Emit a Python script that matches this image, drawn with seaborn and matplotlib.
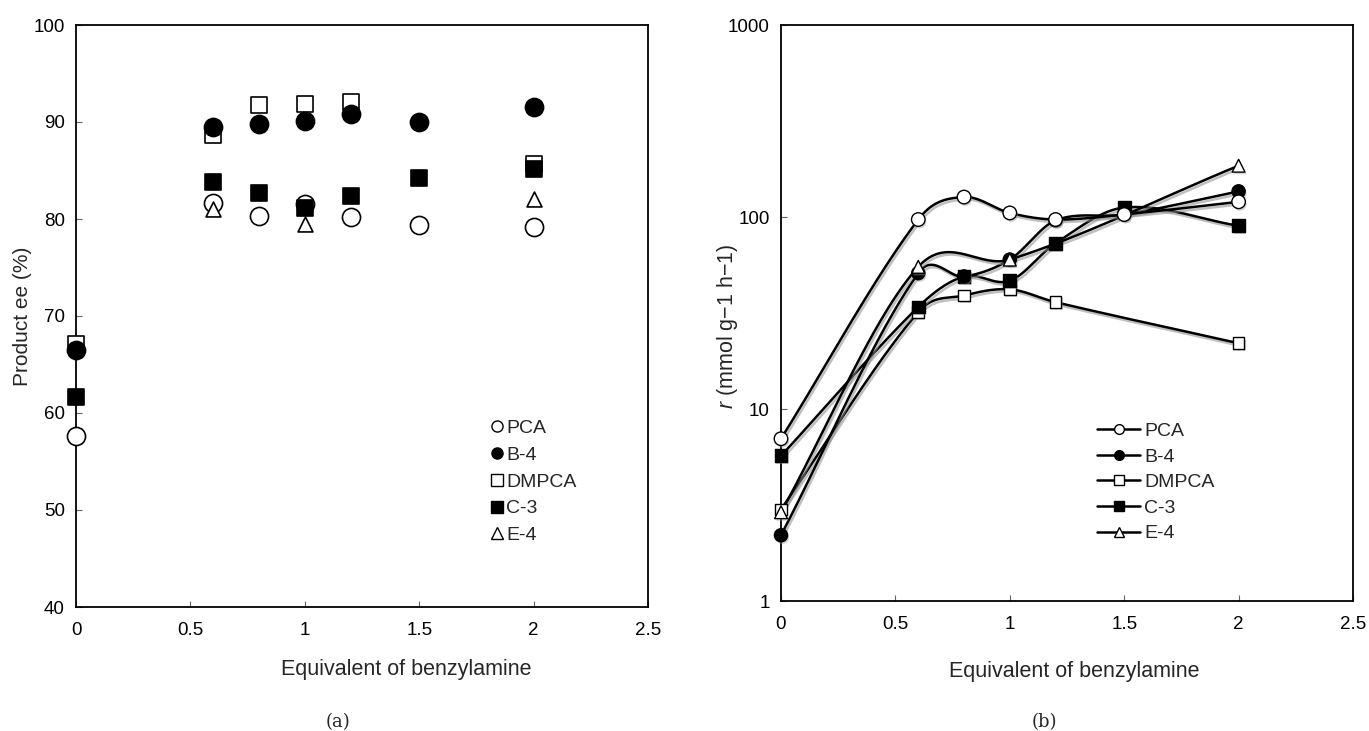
import numpy as np
import matplotlib
matplotlib.use("Agg")
import matplotlib.pyplot as plt
import matplotlib.patheffects as pe
from matplotlib.lines import Line2D
import seaborn as sns

sns.set_theme(style="white")
plt.rcParams["font.family"] = ["Liberation Sans", "DejaVu Sans"]
plt.rcParams["mathtext.fontset"] = "custom"
plt.rcParams["mathtext.it"] = "Liberation Sans:italic"
plt.rcParams["mathtext.rm"] = "Liberation Sans"

# ---- data -------------------------------------------------------------
catalysts = ["PCA", "B-4", "DMPCA", "C-3", "E-4"]

# (a) product ee (%) vs equivalents of benzylamine
ee_x = {
    "PCA":   [0, 0.6, 0.8, 1.0, 1.2, 1.5, 2.0],
    "B-4":   [0, 0.6, 0.8, 1.0, 1.2, 1.5, 2.0],
    "DMPCA": [0, 0.6, 0.8, 1.0, 1.2, 2.0],
    "C-3":   [0, 0.6, 0.8, 1.0, 1.2, 1.5, 2.0],
    "E-4":   [0.6, 1.0, 2.0],
}
ee_pca = [57.6, 81.6, 80.3, 81.5, 80.2, 79.4, 79.2]
ee_b4 = [66.5, 89.5, 89.8, 90.1, 90.8, 90.0, 91.5]
ee_dmpca = [67.1, 88.7, 91.8, 91.9, 92.1, 85.7]
ee_c3 = [61.7, 83.8, 82.7, 81.1, 82.4, 84.2, 85.2]
ee_e4 = [81.0, 79.5, 82.1]

# (b) rate r (mmol g-1 h-1) vs equivalents of benzylamine
r_x = {
    "PCA":   [0, 0.6, 0.8, 1.0, 1.2, 1.5, 2.0],
    "B-4":   [0, 0.6, 0.8, 1.0, 1.2, 1.5, 2.0],
    "DMPCA": [0, 0.6, 0.8, 1.0, 1.2, 2.0],
    "C-3":   [0, 0.6, 0.8, 1.0, 1.2, 1.5, 2.0],
    "E-4":   [0, 0.6, 1.0, 2.0],
}
r_pca = [7.0, 97, 127, 105, 97, 103, 120]
r_b4 = [2.2, 51, 49, 60, 96, 103, 136]
r_dmpca = [3.0, 32, 39, 42, 36, 22]
r_c3 = [5.7, 34, 49, 46.5, 73, 112, 90]
r_e4 = [2.9, 55, 60, 185]

ee_y = {"PCA": ee_pca, "B-4": ee_b4, "DMPCA": ee_dmpca, "C-3": ee_c3, "E-4": ee_e4}
r_y = {"PCA": r_pca, "B-4": r_b4, "DMPCA": r_dmpca, "C-3": r_c3, "E-4": r_e4}

x_ticks = [0, 0.5, 1, 1.5, 2, 2.5]
x_ticklabels = ["0", "0.5", "1", "1.5", "2", "2.5"]
ee_ticks = [40, 50, 60, 70, 80, 90, 100]
r_ticks = [1, 10, 100, 1000]
r_ticklabels = ["1", "10", "100", "1000"]

# ---- marker styles ----------------------------------------------------
style = {
    "PCA":   dict(marker="o", face="white"),
    "B-4":   dict(marker="o", face="black"),
    "DMPCA": dict(marker="s", face="white"),
    "C-3":   dict(marker="s", face="black"),
    "E-4":   dict(marker="^", face="white"),
}
size_a = {"PCA": 170, "B-4": 170, "DMPCA": 140, "C-3": 145, "E-4": 115}
size_b = {"PCA": 95, "B-4": 90, "DMPCA": 70, "C-3": 85, "E-4": 85}


def smooth_curve(xs, ys, n=60):
    """Piecewise cubic Hermite curve through the points (finite-difference slopes)."""
    xs = np.asarray(xs, float)
    ys = np.asarray(ys, float)
    k = len(xs)
    m = np.empty(k)
    m[0] = (ys[1] - ys[0]) / (xs[1] - xs[0])
    m[-1] = (ys[-1] - ys[-2]) / (xs[-1] - xs[-2])
    for i in range(1, k - 1):
        m[i] = (ys[i + 1] - ys[i - 1]) / (xs[i + 1] - xs[i - 1])
    out_x, out_y = [], []
    t = np.linspace(0, 1, n)
    h00 = 2 * t**3 - 3 * t**2 + 1
    h10 = t**3 - 2 * t**2 + t
    h01 = -2 * t**3 + 3 * t**2
    h11 = t**3 - t**2
    for i in range(k - 1):
        h = xs[i + 1] - xs[i]
        out_x.append(xs[i] + t * h)
        out_y.append(h00 * ys[i] + h10 * h * m[i] + h01 * ys[i + 1] + h11 * h * m[i + 1])
    return np.concatenate(out_x), np.concatenate(out_y)


fig = plt.figure(figsize=(13.69, 7.31), dpi=100)
ax1 = fig.add_axes([76 / 1369, 1 - 607 / 731, 572 / 1369, 582 / 731])
ax2 = fig.add_axes([781 / 1369, 1 - 601 / 731, 572 / 1369, 576 / 731])

# ---- panel (a) --------------------------------------------------------
for name in ["PCA", "DMPCA", "E-4", "B-4", "C-3"]:
    st = style[name]
    sns.scatterplot(x=ee_x[name], y=ee_y[name], ax=ax1, marker=st["marker"],
                    s=size_a[name], facecolor=st["face"], edgecolor="black",
                    linewidth=1.2, zorder=3, clip_on=False)

ax1.set_xlim(0, 2.5)
ax1.set_ylim(40, 100)
ax1.set_xticks(x_ticks)
ax1.set_xticklabels(x_ticklabels)
ax1.set_yticks(ee_ticks)

handles_a = [Line2D([], [], linestyle="none", marker=style[c]["marker"],
                    markerfacecolor=style[c]["face"], markeredgecolor="black",
                    markeredgewidth=1.0, markersize=8) for c in catalysts]
ax1.legend(handles_a, catalysts, loc="center left", bbox_to_anchor=(0.725, 0.215),
           frameon=False, fontsize=14, handlelength=0.65, handletextpad=0.15,
           labelspacing=0.47, borderpad=0, borderaxespad=0)

# ---- panel (b) --------------------------------------------------------
shadow = [pe.SimpleLineShadow(offset=(1.2, -1.8), shadow_color="0.55", alpha=0.55),
          pe.Normal()]
order_b = ["DMPCA", "C-3", "B-4", "E-4", "PCA"]
for name in order_b:
    sx, sy = smooth_curve(r_x[name], np.log10(r_y[name]))
    ax2.plot(sx, 10**sy, color="black", lw=1.8, zorder=2, path_effects=shadow,
             solid_capstyle="round")
for name in order_b:
    st = style[name]
    sns.scatterplot(x=r_x[name], y=r_y[name], ax=ax2, marker=st["marker"],
                    s=size_b[name], facecolor=st["face"], edgecolor="black",
                    linewidth=1.0, zorder=3, clip_on=False,
                    path_effects=[pe.SimplePatchShadow(offset=(1, -1.5), shadow_rgbFace="0.6",
                                                       alpha=0.45), pe.Normal()])

ax2.set_yscale("log")
ax2.set_xlim(0, 2.5)
ax2.set_ylim(1, 1000)
ax2.set_xticks(x_ticks)
ax2.set_xticklabels(x_ticklabels)
ax2.set_yticks(r_ticks)
ax2.set_yticklabels(r_ticklabels)
ax2.yaxis.set_minor_locator(matplotlib.ticker.NullLocator())

handles_b = [Line2D([], [], color="black", lw=1.8, marker=style[c]["marker"],
                    markerfacecolor=style[c]["face"], markeredgecolor="black",
                    markeredgewidth=1.0, markersize=7) for c in catalysts]
ax2.legend(handles_b, catalysts, loc="center left", bbox_to_anchor=(0.553, 0.206),
           frameon=False, fontsize=14, handlelength=2.2, handletextpad=0.2,
           labelspacing=0.41, borderpad=0, borderaxespad=0)

# ---- shared axes styling ---------------------------------------------
for ax in (ax1, ax2):
    ax.set_xlabel("")
    ax.set_ylabel("")
    for sp in ax.spines.values():
        sp.set_visible(True)
        sp.set_color("black")
        sp.set_linewidth(1.3)
    ax.tick_params(axis="both", which="major", direction="in", length=4, width=0.8,
                   color="0.4", labelsize=13.5, labelcolor="black", pad=8,
                   bottom=True, left=True)
    ax.tick_params(axis="x", pad=11)
    ax.grid(False)

fig.text(406 / 1369, 1 - 669 / 731, "Equivalent of benzylamine", ha="center", va="center",
         fontsize=15.5)
fig.text(1074 / 1369, 1 - 672 / 731, "Equivalent of benzylamine", ha="center", va="center",
         fontsize=15.5)
fig.text(23 / 1369, 1 - 316 / 731, "Product ee (%)", rotation=90, ha="center", va="center",
         fontsize=15)
fig.text(728 / 1369, 1 - 326 / 731, "$r$ (mmol g\u22121 h\u22121)",
         rotation=90, ha="center", va="center", fontsize=15.5)
fig.text(338 / 1369, 1 - 722 / 731, "(a)", ha="center", va="center", fontsize=13,
         family="DejaVu Serif")
fig.text(1044 / 1369, 1 - 722 / 731, "(b)", ha="center", va="center", fontsize=13,
         family="DejaVu Serif")

fig.savefig("out.png", dpi=100, facecolor="white")
